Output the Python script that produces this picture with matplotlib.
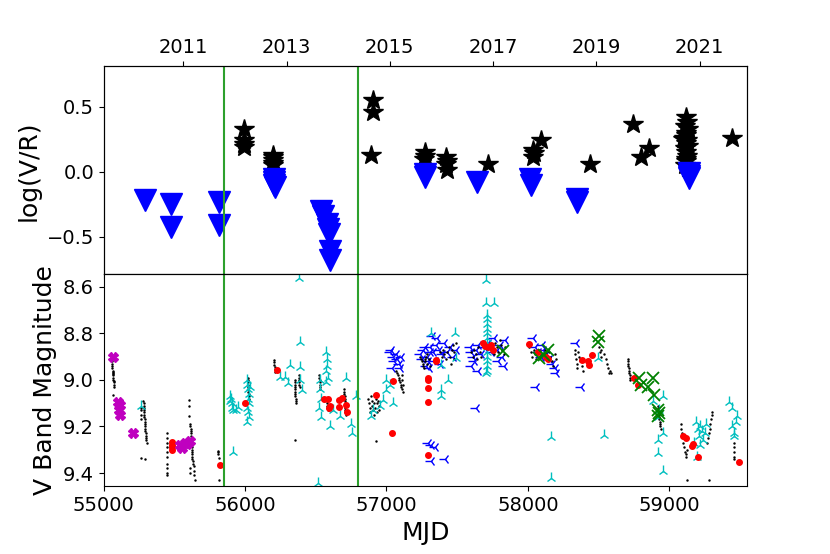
import datetime
import numpy as np
import matplotlib
matplotlib.use("Agg")
import matplotlib.pyplot as plt

# ---- top panel: log(V/R) ----
star_mjd = [55990, 55990, 55995, 55992,
            56197, 56200, 56195, 56198, 56200,
            56905, 56905, 56890,
            57269, 57265, 57275,
            57423, 57420, 57425, 57430,
            57717,
            58039, 58037, 58095, 58045,
            58438,
            58747, 58803, 58859,
            59120, 59125, 59110, 59130, 59115, 59120, 59105, 59125, 59118,
            59130, 59112, 59120, 59125, 59115, 59120, 59110, 59130, 59100,
            59447]
star_vr = [0.33, 0.24, 0.21, 0.19,
           0.13, 0.11, 0.09, 0.07, 0.05,
           0.55, 0.46, 0.13,
           0.15, 0.10, 0.12,
           0.11, 0.06, 0.015, 0.08,
           0.06,
           0.11, 0.17, 0.24, 0.14,
           0.06,
           0.37, 0.11, 0.18,
           0.42, 0.38, 0.35, 0.33, 0.30, 0.28, 0.26, 0.24, 0.22,
           0.20, 0.18, 0.15, 0.12, 0.10, 0.08, 0.05, 0.03, 0.25,
           0.26]

tri_mjd = [55294, 55476, 55476, 55812, 55812,
           56204, 56204, 56206, 56208,
           56540, 56548, 56580, 56585, 56590, 56603, 56603,
           57269, 57270,
           57640,
           58018, 58020,
           58347, 58350,
           59138, 59140, 59142]
tri_vr = [-0.22, -0.25, -0.43, -0.235, -0.41,
          -0.06, -0.08, -0.10, -0.12,
          -0.30, -0.34, -0.40, -0.44, -0.48, -0.61, -0.68,
          -0.02, -0.04,
          -0.08,
          -0.06, -0.10,
          -0.21, -0.23,
          -0.01, -0.03, -0.05]

# ---- bottom panel: V band magnitude ----
black_mjd = [55055, 55057, 55058, 55060, 55061, 55062, 55063, 55064, 55065, 55066,
             55067, 55068, 55069, 55070, 55072, 55073, 55065,
             55262, 55262, 55262, 55262, 55280, 55282, 55283, 55284, 55285, 55286,
             55287, 55288, 55289, 55290, 55291, 55292, 55293, 55294, 55296, 55298,
             55300, 55302, 55304, 55262, 55290,
             55445, 55447, 55446, 55448, 55450, 55445, 55447, 55449, 55446, 55450,
             55605, 55605, 55606, 55610, 55612, 55614, 55615, 55616, 55617, 55618,
             55619, 55620, 55621, 55622, 55623, 55624, 55625, 55626, 55627, 55628,
             55630, 55635, 55640, 55638, 55645, 55612, 55608,
             55810, 55810, 55811, 55812, 55812,
             56018, 56019, 56020, 56021, 56021, 56022, 56023, 56024, 56025, 56026,
             56205, 56206, 56207, 56208, 56209, 56210,
             56350, 56351, 56352, 56352, 56353, 56354, 56355, 56356, 56357, 56358,
             56358, 56352, 56380, 56381, 56382, 56383, 56384, 56385,
             56525, 56526, 56527, 56528, 56529, 56530, 56531,
             56578, 56579, 56580, 56581, 56582, 56583,
             56700, 56701, 56702, 56703, 56704, 56705, 56706, 56707, 56708, 56709,
             56710, 56711,
             56870, 56875, 56880, 56885, 56890, 56895, 56900, 56905, 56910, 56915,
             56920, 56925, 56930, 56935, 56940, 56945, 56950, 56928,
             57070, 57075, 57080, 57085, 57090, 57095, 57100, 57105, 57110, 57115,
             57108, 57112, 57117,
             57240, 57245, 57250, 57255, 57260, 57265, 57270, 57275, 57280, 57285,
             57290, 57300, 57305,
             57380, 57390, 57400, 57410, 57420, 57430, 57440, 57450, 57460, 57470,
             57480, 57490, 57455, 57475,
             57600, 57610, 57620, 57630, 57640, 57650, 57660, 57670, 57740, 57750,
             57760, 57770, 57780, 57790, 57800, 57810, 57820, 57830, 57840,
             58010, 58020, 58030, 58040, 58050, 58060, 58070, 58080, 58120, 58130,
             58140, 58150, 58160, 58170, 58180, 58190, 58200,
             58330, 58335, 58340, 58345, 58350, 58355, 58360, 58370, 58380, 58390,
             58505, 58510, 58515, 58520, 58540, 58550, 58560, 58570, 58575, 58580,
             58588,
             58705, 58707, 58709, 58711, 58713, 58715, 58717, 58719, 58721, 58723,
             58918, 58920, 58922, 58924, 58926, 58928, 58930, 58932, 58934, 58936,
             58940,
             59082, 59085, 59090, 59095, 59100, 59105, 59110, 59115, 59120, 59128,
             59129,
             59270, 59275, 59280, 59285, 59290, 59295, 59300, 59305, 59278,
             59458, 59459, 59459, 59460, 59460]
black_mag = [8.91, 8.92, 8.93, 8.94, 8.95, 8.96, 8.965, 8.97, 8.975, 8.98,
             8.99, 9.0, 9.005, 9.01, 9.02, 9.03, 9.065,
             9.12, 9.13, 9.15, 9.17, 9.09, 9.10, 9.11, 9.12, 9.13, 9.14,
             9.15, 9.16, 9.17, 9.18, 9.19, 9.20, 9.21, 9.22, 9.23, 9.24,
             9.25, 9.26, 9.27, 9.335, 9.34,
             9.23, 9.25, 9.27, 9.29, 9.31, 9.33, 9.36, 9.38, 9.40, 9.41,
             9.085, 9.114, 9.157, 9.19, 9.20, 9.21, 9.22, 9.23, 9.24, 9.25,
             9.26, 9.27, 9.28, 9.29, 9.30, 9.31, 9.32, 9.33, 9.34, 9.35,
             9.36, 9.37, 9.39, 9.41, 9.43, 9.40, 9.38,
             9.305, 9.31, 9.32, 9.335, 9.43,
             8.99, 9.0, 9.01, 9.02, 9.03, 9.04, 9.05, 9.06, 9.07, 9.08,
             8.915, 8.925, 8.935, 8.945, 8.955, 8.965,
             9.0, 9.01, 9.02, 9.03, 9.04, 9.05, 9.06, 9.07, 9.08, 9.09,
             9.1, 9.257, 8.98, 8.99, 9.0, 9.01, 9.02, 9.03,
             8.98, 8.99, 9.0, 9.01, 9.02, 9.03, 9.04,
             9.08, 9.09, 9.10, 9.11, 9.12, 9.13,
             9.04, 9.05, 9.06, 9.07, 9.08, 9.09, 9.10, 9.11, 9.12, 9.13,
             9.14, 9.15,
             9.08, 9.10, 9.12, 9.14, 9.07, 9.09, 9.11, 9.13, 9.15, 9.10,
             9.12, 9.08, 9.1, 9.14, 9.09, 9.11, 9.13, 9.264,
             8.96, 8.97, 8.98, 8.99, 9.0, 9.01, 9.02, 9.03, 9.04, 9.05,
             8.98, 9.0, 9.02,
             8.90, 8.91, 8.92, 8.93, 8.94, 8.95, 8.91, 8.92, 8.90, 8.93,
             8.89, 8.91, 8.94,
             8.88, 8.90, 8.87, 8.89, 8.91, 8.88, 8.86, 8.90, 8.87, 8.85,
             8.88, 8.84, 8.93, 8.91,
             8.88, 8.90, 8.87, 8.89, 8.91, 8.86, 8.88, 8.90, 8.85, 8.87,
             8.89, 8.84, 8.86, 8.88, 8.83, 8.85, 8.87, 8.89, 8.86,
             8.86, 8.88, 8.90, 8.87, 8.89, 8.91, 8.88, 8.90, 8.87, 8.89,
             8.91, 8.88, 8.90, 8.92, 8.94, 8.89, 8.91,
             8.87, 8.89, 8.91, 8.93, 8.95, 8.88, 8.90, 8.92, 8.94, 8.96,
             8.86, 8.88, 8.90, 8.87, 8.89, 8.91, 8.93, 8.95, 8.97, 8.96,
             8.97,
             8.91, 8.92, 8.93, 8.94, 8.95, 8.96, 8.97, 8.98, 8.99, 9.0,
             9.11, 9.12, 9.13, 9.14, 9.15, 9.16, 9.17, 9.18, 9.19, 9.2,
             9.21,
             9.19, 9.21, 9.23, 9.25, 9.27, 9.29, 9.31, 9.32, 9.33, 9.30,
             9.43,
             9.27, 9.25, 9.23, 9.21, 9.19, 9.17, 9.15, 9.14, 9.43,
             9.27, 9.29, 9.31, 9.33, 9.34]

blue_mjd = [57025, 57035, 57045, 57055, 57065, 57075, 57085, 57095, 57105, 57040,
            57258, 57270, 57285, 57295, 57305, 57300, 57280, 57293,
            57240, 57250, 57310, 57330, 57350, 57370, 57390, 57410, 57430, 57450,
            57470, 57490, 57340, 57380, 57320, 57360,
            57317, 57340, 57317, 57411,
            57590, 57600, 57610, 57620, 57630, 57650, 57670, 57690, 57720, 57740,
            57760, 57780, 57800, 57820, 57840, 57600, 57650, 57635, 57790, 57830,
            58035, 58050, 58070, 58090, 58110, 58130, 58150, 58170, 58190, 58058,
            58100, 58200,
            58341, 58376]
blue_mag = [8.88, 8.87, 8.90, 8.92, 8.89, 8.91, 8.93, 8.95, 8.90, 8.95,
            8.87, 8.86, 8.90, 8.92, 8.88, 8.95, 8.94, 9.27,
            8.89, 8.91, 8.86, 8.88, 8.85, 8.87, 8.89, 8.84, 8.88, 8.86,
            8.90, 8.87, 8.92, 8.93, 8.81, 8.82,
            9.28, 9.29, 9.35, 9.34,
            8.86, 8.88, 8.90, 8.92, 8.87, 8.85, 8.89, 8.86, 8.84, 8.88,
            8.82, 8.87, 8.85, 8.90, 8.83, 8.94, 8.96, 9.12, 8.92, 8.94,
            8.82, 8.86, 8.88, 8.90, 8.87, 8.89, 8.91, 8.93, 8.95, 9.03,
            8.85, 8.97,
            8.843, 9.03]

cyan_mjd = [55264,
            55892, 55895, 55900, 55905, 55910, 55915, 55935, 55950, 55915,
            56010, 56015, 56020, 56025, 56018, 56030, 56012, 56022, 56028, 56016,
            56035,
            56281, 56316, 56387, 56387, 56387, 56399, 56382, 56246, 56305,
            56575, 56578, 56580, 56575, 56585, 56572,
            56528, 56530, 56535, 56525, 56540, 56599, 56622, 56716, 56752, 56755,
            56787, 56669, 56516,
            56893, 56905, 56952, 56975, 56999, 57022, 57046, 56999,
            57317, 57482, 57493, 57387, 57434, 57387, 57387,
            57705, 57705, 57757, 57710, 57712, 57708, 57714, 57710, 57712, 57708,
            57714, 57710, 57712, 57708, 57714, 57710, 57705,
            58164, 58164, 58536, 58494,
            58953, 58883, 58930, 58920, 58918, 58918, 58953, 58953,
            59188, 59200, 59210, 59220, 59230, 59240, 59250, 59215, 59196, 59260,
            59175,
            59424, 59447, 59482, 59447, 59458, 59470, 59460]
cyan_mag = [9.114,
            9.07, 9.09, 9.08, 9.10, 9.12, 9.13, 9.13, 9.115, 9.31,
            9.00, 9.02, 9.04, 9.06, 9.08, 9.10, 9.12, 9.14, 9.16, 9.18,
            9.03,
            8.986, 8.936, 8.836, 8.943, 9.0, 9.043, 8.564, 8.986, 9.014,
            8.88, 8.91, 8.94, 8.96, 8.99, 9.01,
            9.0, 9.04, 9.08, 9.12, 9.16, 9.2, 9.13, 8.99, 9.19, 9.23,
            9.07, 9.157, 9.443,
            9.157, 9.129, 9.114, 9.086, 9.043, 9.021, 9.1, 9.0,
            8.80, 8.80, 8.907, 8.936, 9.0, 9.043, 9.07,
            8.571, 8.671, 8.671, 8.72, 8.74, 8.76, 8.78, 8.80, 8.82, 8.84,
            8.86, 8.88, 8.90, 8.92, 8.94, 8.96, 8.97,
            9.243, 9.42, 9.236, 8.907,
            9.07, 9.09, 9.13, 9.16, 9.26, 9.315, 9.39, 9.23,
            9.18, 9.21, 9.24, 9.20, 9.22, 9.26, 9.23, 9.28, 9.33, 9.19,
            9.27,
            9.093, 9.12, 9.157, 9.2, 9.23, 9.18, 9.24]

red_mjd = [55481, 55481, 55483, 55481, 55822, 55998, 56222,
           56556, 56585, 56597, 56592, 56665, 56682, 56665, 56717, 56722,
           56924, 57046, 57041,
           57293, 57293, 57293, 57293, 57293, 57352, 57350,
           57680, 57720, 57740, 57752, 57700,
           58011, 58070, 58140, 58130,
           58380, 58422, 58434, 58454,
           58753, 58776,
           59094, 59117, 59170, 59160, 59200,
           59494]
red_mag = [9.265, 9.28, 9.29, 9.30, 9.364, 9.10, 8.957,
           9.08, 9.08, 9.11, 9.12, 9.085, 9.078, 9.117, 9.107, 9.14,
           9.064, 9.007, 9.228,
           8.99, 9.0, 9.035, 9.097, 9.324, 8.914, 8.92,
           8.84, 8.86, 8.85, 8.87, 8.855,
           8.846, 8.88, 8.91, 8.90,
           8.915, 8.92, 8.935, 8.893,
           8.993, 9.02,
           9.24, 9.25, 9.275, 9.285, 9.33,
           9.354]

green_mjd = [57823, 58082, 58140, 58117, 58505, 58494, 58788, 58882, 58847, 58800,
             58894, 58918, 58930, 58918]
green_mag = [8.878, 8.907, 8.871, 8.893, 8.814, 8.836, 8.99, 8.993, 9.03, 9.02,
             9.064, 9.128, 9.143, 9.157]

magenta_mjd = [55062, 55104, 55115, 55110, 55115, 55210, 55540, 55575, 55610, 55551,
               55590]
magenta_mag = [8.90, 9.093, 9.107, 9.128, 9.15, 9.23, 9.279, 9.27, 9.264, 9.293,
               9.275]

event_mjd = [55850, 56800]
years = [2011, 2013, 2015, 2017, 2019, 2021]


def year_to_mjd(y):
    # MJD of 1 January of the year
    return 51544 + (datetime.date(y, 1, 1) - datetime.date(2000, 1, 1)).days


fig = plt.figure(figsize=(8.3, 5.54), dpi=100)
ax1 = fig.add_axes([0.125, 0.505, 0.775, 0.375])
ax2 = fig.add_axes([0.125, 0.122, 0.775, 0.383], sharex=ax1)

ax1.plot(star_mjd, star_vr, '*', color='k', ms=15, linestyle='none')
ax1.plot(tri_mjd, tri_vr, 'v', color='b', ms=16, linestyle='none')
for m in event_mjd:
    ax1.axvline(m, color='tab:green', lw=1.5)
ax1.set_ylim(-0.79, 0.81)
ax1.set_yticks([-0.5, 0.0, 0.5])
ax1.set_ylabel('log(V/R)', fontsize=18)
ax1.tick_params(axis='x', bottom=False, labelbottom=False)
ax1.tick_params(axis='y', labelsize=14)

ax2.plot(blue_mjd, blue_mag, '3', color='b', ms=8, linestyle='none')
ax2.plot(black_mjd, black_mag, '.', color='k', ms=1.5, linestyle='none')
ax2.plot(cyan_mjd, cyan_mag, '2', color='c', ms=8, linestyle='none')
ax2.plot(red_mjd, red_mag, 'o', color='r', ms=4, linestyle='none')
ax2.plot(green_mjd, green_mag, 'x', color='g', ms=8, mew=1.3, linestyle='none')
ax2.plot(magenta_mjd, magenta_mag, 'X', color='m', ms=7, linestyle='none')
for m in event_mjd:
    ax2.axvline(m, color='tab:green', lw=1.5)
ax2.set_xlim(55000, 59550)
ax2.set_ylim(9.457, 8.547)
ax2.set_yticks([8.6, 8.8, 9.0, 9.2, 9.4])
ax2.set_xticks([55000, 56000, 57000, 58000, 59000])
ax2.set_xlabel('MJD', fontsize=18)
ax2.set_ylabel('V Band Magnitude', fontsize=18)
ax2.tick_params(labelsize=14)

# calendar years along the top
top = ax1.twiny()
top.set_xlim(ax1.get_xlim())
top.set_xticks([year_to_mjd(y) for y in years])
top.set_xticklabels([str(y) for y in years])
top.tick_params(labelsize=14)

fig.savefig('out.png', dpi=100)
